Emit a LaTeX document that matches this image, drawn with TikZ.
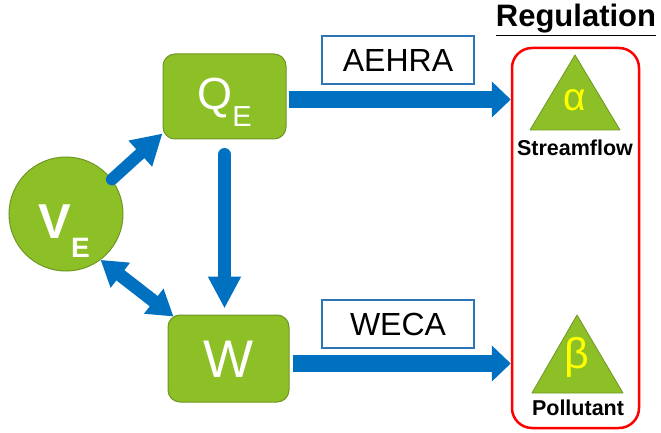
\documentclass[tikz,border=0pt]{standalone}
\usepackage{fontspec}
\setmainfont{Liberation Sans}
\usetikzlibrary{arrows.meta}
\definecolor{grn}{RGB}{141,192,38}
\definecolor{grnd}{RGB}{110,150,35}
\definecolor{arr}{RGB}{0,112,192}
\definecolor{lblb}{RGB}{46,117,182}
\definecolor{rd}{RGB}{255,0,0}
\definecolor{yl}{RGB}{255,255,0}
\newcommand\fsz[1]{\fontsize{#1}{#1}\selectfont}
\begin{document}
\begin{tikzpicture}[x=1pt,y=-1pt,
 gbox/.style={draw=grnd,fill=grn,line width=1pt,rounded corners=12pt,text=white,inner sep=0pt},
 lbox/.style={draw=lblb,line width=1.3pt,minimum width=152pt,minimum height=48pt,inner sep=0pt,font=\fsz{32}},
 fat/.style={draw=arr,line width=#1},
 tri/.style={draw=grnd,fill=grn,line width=0.8pt,line join=round}]
\useasboundingbox (0,0) rectangle (661,433);

\node[gbox,minimum width=123pt,minimum height=85pt,text height=27pt,text depth=0pt] (QE) at (224.5,96.5) {\fsz{45}Q\raisebox{-17pt}{\fsz{29}E}};
\node[gbox,minimum width=121pt,minimum height=87pt,text height=37pt,text depth=0pt,font=\fsz{53}] (W) at (228.5,358.5) {W};
\node[gbox,circle,minimum size=114pt,text height=48pt,text depth=0pt,font=\bfseries\fsz{49}] (VE) at (66,214) {\hspace*{-4pt}V\raisebox{-19pt}{\fsz{28}E}};

\node[lbox] (AE) at (398,60) {AEHRA};
\node[lbox] (WE) at (398,324) {WECA};

\node[draw=rd,line width=2.5pt,rounded corners=20pt,minimum width=127pt,minimum height=380pt] (R) at (575.5,238) {};
\node[anchor=base,font=\bfseries\fsz{31}] (reg) at (576,27) {\underline{Regulation}};

\draw[tri] (530,130) -- (620,130) -- (575,55) -- cycle;
\node[text=yl,font=\fsz{39}] (al) at (575,100) {α};
\node[anchor=base,font=\bfseries\fsz{21.5}] (sf) at (575,156) {Streamflow};
\draw[tri] (532,393) -- (623,393) -- (577,315) -- cycle;
\node[text=yl,font=\fsz{43}] (be) at (577,357) {β};
\node[anchor=base,font=\bfseries\fsz{21.5}] (po) at (578,415) {Pollutant};

\draw[fat=17pt,-{Triangle[length=19pt,width=35pt]},shorten <=2pt] ([yshift=-3pt]QE.east) -- ([yshift=-3pt]QE.east -| R.west);
\draw[fat=17pt,-{Triangle[length=19pt,width=35pt]},shorten <=3pt] ([yshift=-5pt]W.east) -- ([yshift=-5pt]W.east -| R.west);
\draw[fat=13pt,line cap=round,-{Triangle[length=32pt,width=31pt]},shorten <=15pt,shorten >=6pt] (QE.south) -- (QE.south |- W.north);
\draw[fat=12pt,line cap=round,-{Triangle[length=30pt,width=33pt]}] (VE.37) -- ([yshift=6pt]QE.south west);
\draw[fat=13pt,{Triangle[length=25pt,width=30pt]}-{Triangle[length=25pt,width=30pt]}] (VE.-53) -- ([xshift=6pt,yshift=-2pt]W.north west);
\end{tikzpicture}
\end{document}
